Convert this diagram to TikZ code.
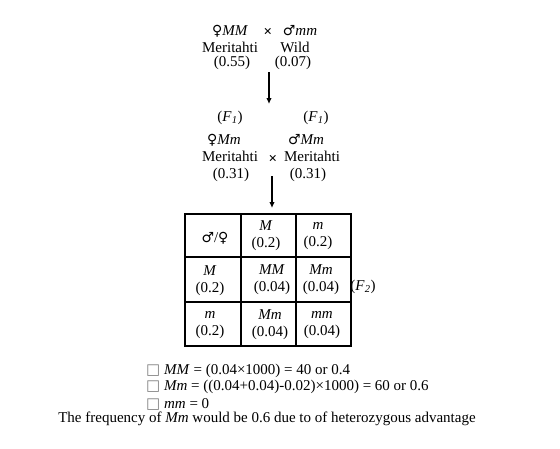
\documentclass[tikz,border=0pt]{standalone}
\usepackage{fontspec}
\setmainfont{Liberation Serif}
\newfontfamily\simfont{DejaVu Sans}
\usepackage{tikz}
\usetikzlibrary{arrows.meta}
\newcommand{\femea}{{\simfont\fontsize{14}{17}\selectfont ♀}}
\newcommand{\macho}{{\simfont\fontsize{14}{17}\selectfont ♂}}
\newcommand{\caixa}{{\simfont\color{gray}□}}
\newcommand{\gerF}{(\textit{F}\textsubscript{\textit{1}})}

\begin{document}
\begin{tikzpicture}[x=1pt,y=-1pt,font=\fontsize{15}{17}\selectfont,
    txt/.style={inner sep=0pt, align=center},
    seta/.style={-{Latex[length=6pt,width=5.5pt]}, line width=1.2pt}]
        \useasboundingbox (0,0) rectangle (560,448);

          % cruzamento 0 
        \node[txt] (pA) at (230,31) {\femea\textit{MM}};
        \node[txt] (xA) at (268,32) {\textbf{×}};
        \node[txt] (pB) at (300,31) {\macho\textit{mm}};
        \node[txt] (nA) at (230,47) {Meritahti};
        \node[txt] (nB) at (295,47) {Wild};
        \node[txt] (vA) at (232,63) {(0.55)};
        \node[txt] (vB) at (293,63) {(0.07)};

          % geracao F1 
        \node[txt] (gA) at (230,118) {\gerF};
        \node[txt] (gB) at (316,118) {\gerF};
        \node[txt] (fA) at (224,140) {\femea\textit{Mm}};
        \node[txt] (fB) at (306,140) {\macho\textit{Mm}};
        \node[txt] (mA) at (230,156) {Meritahti};
        \node[txt] (xB) at (273,159) {\textbf{×}};
        \node[txt] (mB) at (312,156) {Meritahti};
        \node[txt] (wA) at (231,175) {(0.31)};
        \node[txt] (wB) at (308,175) {(0.31)};

          % setas 
        \coordinate (s0) at (269,72);
        \coordinate (s1) at (269,104);
        \coordinate (s2) at (272,176);
        \coordinate (s3) at (272,208);
        \draw[seta] (s0) -- (s1);
        \draw[seta] (s2) -- (s3);

          % quadro de Punnett 
        \draw[line width=1.5pt] (185,214) rectangle (351,346);
        \draw[line width=1.5pt] (241,214) -- (241,346);
        \draw[line width=1.5pt] (296,214) -- (296,346);
        \draw[line width=1.5pt] (185,257) -- (351,257);
        \draw[line width=1.5pt] (185,302) -- (351,302);

        \node[txt] (c11) at (215,238) {\macho/\femea};
        \node[txt] (c12) at (266,236) {\textit{M}\\(0.2)};
        \node[txt] (c13) at (318,236) {\textit{m}\\(0.2)};
        \node[txt] (c21) at (210,281) {\textit{M}\\(0.2)};
        \node[txt] (c22) at (272,280) {\textit{MM}\\(0.04)};
        \node[txt] (c23) at (321,280) {\textit{Mm}\\(0.04)};
        \node[txt] (c31) at (210,325) {\textit{m}\\(0.2)};
        \node[txt] (c32) at (270,325) {\textit{Mm}\\(0.04)};
        \node[txt] (c33) at (322,325) {\textit{mm}\\(0.04)};
        \node[txt] (gC) at (363,287) {(\textit{F}\textsubscript{\textit{2}})};

          % resultados 
        \node[txt, anchor=west] (r1) at (146,371) {\caixa\ \textit{MM} = (0.04×1000) = 40 or 0.4};
        \node[txt, anchor=west] (r2) at (146,387) {\caixa\ \textit{Mm} = ((0.04+0.04)-0.02)×1000) = 60 or 0.6};
        \node[txt, anchor=west] (r3) at (146,404) {\caixa\ \textit{mm} = 0};
        \node[txt] (r4) at (267,419) {The frequency of \textit{Mm} would be 0.6 due to of heterozygous advantage};
    \end{tikzpicture}
\end{document}
